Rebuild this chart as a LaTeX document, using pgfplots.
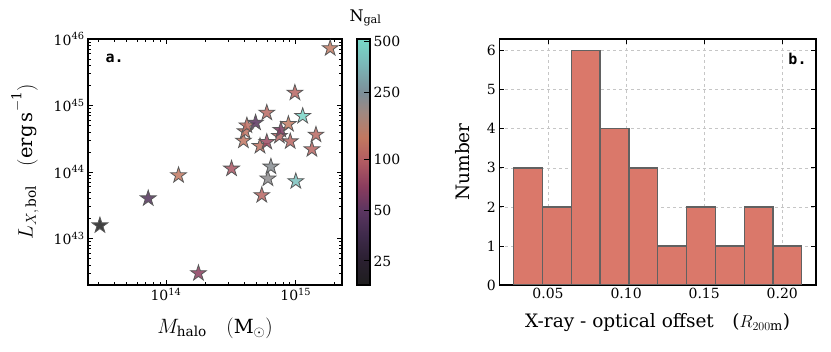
\documentclass[border=0pt]{standalone}
\usepackage{pgfplots}
\usepackage{pgfplotstable}
\pgfplotsset{compat=1.18}
\usepackage{fontspec}
\setmainfont{DejaVu Serif}
\newfontfamily\monofont{DejaVu Sans Mono}
\definecolor{barc}{RGB}{218,120,106}
\pgfplotsset{colormap={ngal}{rgb255(0)=(30,30,30) rgb255(10)=(42,31,48) rgb255(20)=(62,42,74) rgb255(30)=(90,53,96) rgb255(40)=(138,60,94) rgb255(50)=(176,90,98) rgb255(60)=(194,120,96) rgb255(70)=(160,136,128) rgb255(78)=(124,142,152) rgb255(90)=(122,184,184) rgb255(100)=(120,216,200)}}
\pgfdeclareplotmark{fstar}{%
  \pgfpathmoveto{\pgfpointpolar{90}{\pgfplotmarksize}}%
  \pgfpathlineto{\pgfpointpolar{126}{0.382\pgfplotmarksize}}%
  \pgfpathlineto{\pgfpointpolar{162}{\pgfplotmarksize}}%
  \pgfpathlineto{\pgfpointpolar{198}{0.382\pgfplotmarksize}}%
  \pgfpathlineto{\pgfpointpolar{234}{\pgfplotmarksize}}%
  \pgfpathlineto{\pgfpointpolar{270}{0.382\pgfplotmarksize}}%
  \pgfpathlineto{\pgfpointpolar{306}{\pgfplotmarksize}}%
  \pgfpathlineto{\pgfpointpolar{342}{0.382\pgfplotmarksize}}%
  \pgfpathlineto{\pgfpointpolar{18}{\pgfplotmarksize}}%
  \pgfpathlineto{\pgfpointpolar{54}{0.382\pgfplotmarksize}}%
  \pgfpathclose
  \pgfusepathqfillstroke}
\pgfplotstableread{
M L N
3.1e13 1.57e43 18
7.3e13 4.0e43 45
1.25e14 8.9e43 135
1.78e14 3.0e42 70
3.2e14 1.12e44 90
3.95e14 2.95e44 130
4.07e14 4.07e44 125
4.2e14 5.0e44 120
4.9e14 5.5e44 48
5.3e14 2.45e44 125
5.47e14 4.47e43 110
5.98e14 7.76e44 115
5.98e14 2.82e44 80
6.1e14 7.94e43 220
6.43e14 1.2e44 230
7.48e14 3.47e44 105
7.67e14 4.27e44 62
8.77e14 5.25e44 140
9.06e14 2.88e44 110
9.84e14 1.55e45 110
1.0e15 7.24e43 400
1.13e15 6.92e44 500
1.33e15 2.19e44 110
1.43e15 3.63e44 115
1.84e15 7.24e45 140
}\stars
\begin{document}
\begin{tikzpicture}
\path[use as bounding box] (0,0) rectangle (831pt,352pt);
\begin{axis}[
  at={(88pt,67pt)}, anchor=south west, scale only axis,
  width=254pt, height=246pt,
  xmode=log, ymode=log,
  xmin=2.51e13, xmax=2.27e15, ymin=2e42, ymax=1e46,
  xtick={1e14,1e15}, xticklabels={10\textsuperscript{14},10\textsuperscript{15}},
  ytick={1e43,1e44,1e45,1e46}, yticklabels={10\textsuperscript{43},10\textsuperscript{44},10\textsuperscript{45},10\textsuperscript{46}},
  minor xtick={3e13,4e13,5e13,6e13,7e13,8e13,9e13,2e14,3e14,4e14,5e14,6e14,7e14,8e14,9e14,2e15},
  minor ytick={3e42,4e42,5e42,6e42,7e42,8e42,9e42,2e43,3e43,4e43,5e43,6e43,7e43,8e43,9e43,2e44,3e44,4e44,5e44,6e44,7e44,8e44,9e44,2e45,3e45,4e45,5e45,6e45,7e45,8e45,9e45},
  tick align=inside, xtick pos=both, ytick pos=both,
  major tick length=5pt, minor tick length=3pt,
  tick style={black, line width=0.8pt},
  axis line style={line width=1.1pt},
  tick label style={font=\fontsize{14}{16}\selectfont},
  xlabel={$M_{\mathrm{halo}}\quad(\mathrm{M}_\odot)$},
  ylabel={$L_{X,\,\mathrm{bol}}\quad(\mathrm{erg\,s^{-1}})$},
  label style={font=\fontsize{19.5}{22}\selectfont},
  xlabel style={at={(axis description cs:0.5,-0.175)}, anchor=center},
  ylabel style={at={(axis description cs:-0.248,0.5)}, anchor=center},
  colormap name=ngal,
  point meta min=1.2553, point meta max=2.716,
  colorbar,
  colorbar shift/.style={xshift=15pt},
  colorbar style={
    at={(parent axis.north east)}, anchor=north west,
    width=13pt,
    ytick={1.39794,1.69897,2,2.39794,2.69897},
    yticklabels={25,50,100,250,500},
    ytick pos=right, tick align=inside, major tick length=6pt,
    tick style={black, line width=1pt},
    axis line style={line width=1.1pt},
    tick label style={font=\fontsize{14}{16}\selectfont},
    title={N$_{\mathrm{gal}}$},
    title style={font=\fontsize{16}{18}\selectfont, at={(0.5,1)}, anchor=south, yshift=3pt, xshift=2pt},
  },
]
\addplot[scatter, only marks, mark=fstar, mark size=8.3pt, point meta=explicit,
  scatter/use mapped color={draw=black!65, fill=mapped color, fill opacity=0.85, line width=0.8pt}]
  table[x=M, y=L, meta expr={log10(\thisrow{N})}] {\stars};
\node[font=\monofont\bfseries\fontsize{15}{17}\selectfont, anchor=west] at (rel axis cs:0.055,0.919) {a.};
\end{axis}
\begin{axis}[
  at={(499.3pt,67pt)}, anchor=south west, scale only axis,
  width=316.7pt, height=246pt,
  xmin=0.0188, xmax=0.2216, ymin=0, ymax=6.3,
  xtick={0.05,0.1,0.15,0.2}, xticklabels={0.05,0.10,0.15,0.20},
  ytick={0,1,2,3,4,5,6},
  grid=major, grid style={dashed, gray!45, line width=0.7pt},
  tick align=inside, xtick pos=both, ytick pos=both,
  major tick length=5pt,
  tick style={black, line width=0.8pt},
  axis line style={line width=1.1pt},
  /pgf/number format/assume math mode=true,
  tick label style={font=\fontsize{14}{16}\selectfont},
  xlabel={X-ray - optical offset\quad($R_{200\mathrm{m}}$)},
  ylabel={Number},
  label style={font=\fontsize{18.5}{21}\selectfont},
  xlabel style={at={(axis description cs:0.5,-0.154)}, anchor=center},
  ylabel style={at={(axis description cs:-0.115,0.5)}, anchor=center},
]
\addplot[ybar interval, fill=barc, draw=black!62, line width=1.3pt] coordinates {
(0.0280,3) (0.0464,2) (0.0649,6) (0.0833,4) (0.1018,3) (0.1202,1) (0.1387,2) (0.1571,1) (0.1756,2) (0.1940,1) (0.2124,1)};
\node[font=\monofont\bfseries\fontsize{15}{17}\selectfont, anchor=west] at (rel axis cs:0.902,0.919) {b.};
\end{axis}
\end{tikzpicture}
\end{document}
